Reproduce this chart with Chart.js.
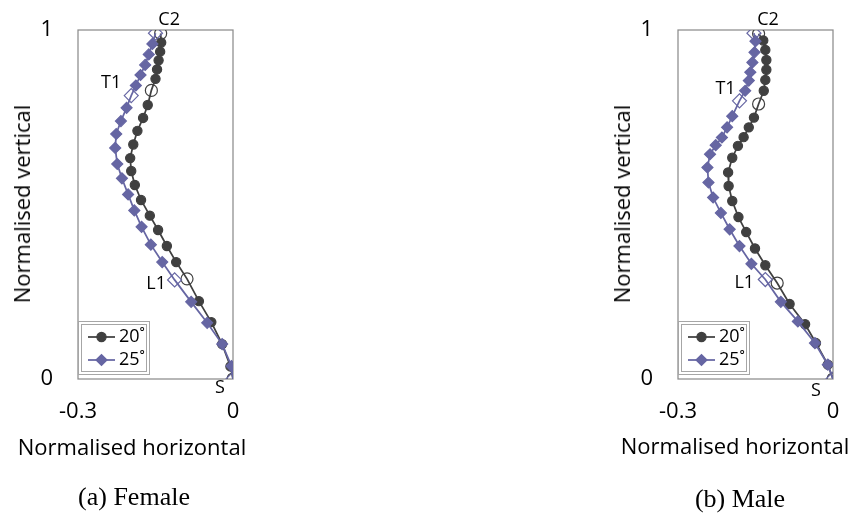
<!DOCTYPE html>
<html lang="en">
<head>
  <meta charset="UTF-8" />
  <title>Normalised spine curves</title>
  <script src="https://cdn.jsdelivr.net/npm/chart.js"></script>
  <style>
    body { margin: 0; background: #fff; }
    .page { position: relative; width: 857px; height: 517px; overflow: hidden; font-family: 'Open Sans', sans-serif; color: #000; }
    .panel { position: absolute; top: 0; width: 300px; height: 470px; }
    .txt { position: absolute; white-space: nowrap; line-height: 1; transform: translate(-50%, -50%); }
    .ytitle { font-size: 22px; transform: translate(-50%, -50%) rotate(-90deg); }
    .xtitle { font-size: 22px; }
    .caption { font-family: 'Liberation Serif', 'Times New Roman', serif; font-size: 26px; }
  </style>
</head>
<body>
  <div class="page">
    <div class="panel" style="left:0"><canvas id="chart-female" width="300" height="470"></canvas></div>
    <div class="panel" style="left:600px"><canvas id="chart-male" width="300" height="470"></canvas></div>

    <div class="txt ytitle" style="left:21px; top:204px">Normalised vertical</div>
    <div class="txt xtitle" style="left:132px; top:446px">Normalised horizontal</div>
    <div class="txt caption" style="left:134px; top:497px">(a) Female</div>

    <div class="txt ytitle" style="left:621px; top:204px">Normalised vertical</div>
    <div class="txt xtitle" style="left:735px; top:445px">Normalised horizontal</div>
    <div class="txt caption" style="left:740px; top:499px">(b) Male</div>
  </div>

  <script>
    // axis ticks and names
    const xTicks = [-0.3, 0];
    const xTickLabels = ['-0.3', '0'];
    const yTicks = [0, 1];
    const yTickLabels = ['0', '1'];
    const seriesNames = ['20˚', '25˚'];
    const keyNames = ['C2', 'T1', 'L1', 'S'];

    // (a) Female
    const femaleX20 = [-0.140, -0.139, -0.141, -0.144, -0.147, -0.150, -0.158, -0.165, -0.174, -0.185, -0.193, -0.199, -0.197, -0.190, -0.178, -0.161, -0.145, -0.128, -0.110, -0.089, -0.066, -0.042, -0.021, -0.005, 0];
    const femaleY20 = [0.990, 0.964, 0.938, 0.913, 0.887, 0.860, 0.827, 0.785, 0.748, 0.711, 0.672, 0.633, 0.596, 0.556, 0.513, 0.468, 0.427, 0.381, 0.335, 0.287, 0.223, 0.163, 0.100, 0.036, 0];
    const femaleKey20 = [0, 6, 19, 24];

    const femaleX25 = [-0.150, -0.156, -0.163, -0.170, -0.179, -0.188, -0.197, -0.206, -0.217, -0.226, -0.228, -0.224, -0.215, -0.203, -0.191, -0.177, -0.159, -0.137, -0.113, -0.081, -0.050, -0.021, -0.003, 0];
    const femaleY25 = [0.991, 0.960, 0.930, 0.900, 0.871, 0.841, 0.812, 0.777, 0.739, 0.702, 0.662, 0.616, 0.575, 0.529, 0.483, 0.436, 0.385, 0.335, 0.284, 0.221, 0.161, 0.100, 0.037, 0];
    const femaleKey25 = [0, 6, 18, 23];

    // (b) Male
    const maleX20 = [-0.144, -0.135, -0.131, -0.129, -0.129, -0.131, -0.134, -0.144, -0.153, -0.163, -0.173, -0.184, -0.195, -0.203, -0.202, -0.195, -0.183, -0.168, -0.151, -0.131, -0.108, -0.084, -0.054, -0.033, -0.010, 0];
    const maleY20 = [0.989, 0.970, 0.943, 0.914, 0.886, 0.857, 0.826, 0.788, 0.749, 0.721, 0.693, 0.668, 0.634, 0.592, 0.553, 0.510, 0.464, 0.421, 0.374, 0.326, 0.275, 0.215, 0.157, 0.103, 0.041, 0];
    const maleKey20 = [0, 7, 20, 25];

    const maleX25 = [-0.153, -0.150, -0.152, -0.156, -0.160, -0.163, -0.170, -0.181, -0.195, -0.205, -0.215, -0.227, -0.238, -0.243, -0.241, -0.232, -0.217, -0.200, -0.181, -0.158, -0.131, -0.101, -0.068, -0.035, -0.010, 0];
    const maleY25 = [0.991, 0.968, 0.936, 0.907, 0.879, 0.855, 0.826, 0.797, 0.753, 0.721, 0.692, 0.670, 0.644, 0.606, 0.563, 0.520, 0.476, 0.429, 0.381, 0.330, 0.285, 0.221, 0.165, 0.103, 0.041, 0];
    const maleKey25 = [0, 7, 20, 25];

    // where the C2/T1/L1/S names sit, relative to a marked point of one series
    const femaleLabelPos = [
      { key: 0, series: 0, dx: 8.5, dy: -14 },
      { key: 1, series: 1, dx: -20, dy: -12.5 },
      { key: 2, series: 1, dx: -18.5, dy: 3.5 },
      { key: 3, series: 1, dx: -13, dy: 9 }
    ];
    const maleLabelPos = [
      { key: 0, series: 0, dx: 9.5, dy: -14 },
      { key: 1, series: 1, dx: -14, dy: -12 },
      { key: 2, series: 1, dx: -21, dy: 3 },
      { key: 3, series: 1, dx: -17, dy: 11.5 }
    ];

    const styles = [
      { color: '#404040', shape: 'circle', r: 4.6, hollowR: 6, order: 2 },
      { color: '#6666a3', shape: 'rectRot', r: 5.5, hollowR: 7, order: 1 }
    ];
    const tickFont = { family: "'Open Sans', sans-serif", size: 22 };

    function buildSet(name, xs, ys, keys, st) {
      const data = xs.map((x, i) => ({ x, y: ys[i] }));
      const hollow = i => keys.includes(i);
      return {
        label: name,
        data,
        showLine: true,
        borderColor: st.color,
        borderWidth: 1.75,
        pointStyle: st.shape,
        pointRadius: data.map((_, i) => hollow(i) ? st.hollowR : st.r),
        pointBackgroundColor: data.map((_, i) => hollow(i) ? 'rgba(255,255,255,0)' : st.color),
        pointBorderColor: st.color,
        pointBorderWidth: 1.2,
        order: st.order
      };
    }

    function makeChart(id, series, labelPos) {
      const sets = series.map((s, i) => buildSet(seriesNames[i], s.xs, s.ys, s.keys, styles[i]));

      const frame = {
        id: 'frame',
        beforeDatasetsDraw(chart) {
          const { ctx, chartArea: a } = chart;
          ctx.save();
          ctx.strokeStyle = '#8c8c8c';
          ctx.lineWidth = 1.25;
          ctx.strokeRect(a.left, a.top, a.right - a.left, a.bottom - a.top);
          ctx.restore();
        }
      };

      const boxLegend = {
        id: 'boxLegend',
        afterDatasetsDraw(chart) {
          const { ctx, chartArea: a } = chart;
          const x = a.left, y = a.bottom - 58, w = 72, h = 54;
          ctx.save();
          ctx.fillStyle = '#fff';
          ctx.fillRect(x, y, w, h);
          ctx.strokeStyle = '#a6a6a6';
          ctx.lineWidth = 1;
          ctx.strokeRect(x + 0.5, y + 0.5, w - 1, h - 1);
          ctx.strokeRect(x + 3.5, y + 3.5, w - 7, h - 7);
          sets.forEach((ds, i) => {
            const st = styles[i];
            const rowY = y + 16 + i * 23;
            ctx.strokeStyle = st.color;
            ctx.lineWidth = 1.75;
            ctx.beginPath();
            ctx.moveTo(x + 10, rowY);
            ctx.lineTo(x + 37, rowY);
            ctx.stroke();
            ctx.fillStyle = st.color;
            ctx.lineWidth = 1.2;
            Chart.helpers.drawPoint(ctx, { pointStyle: st.shape, radius: st.r, borderWidth: 1.2, rotation: 0 }, x + 23.5, rowY);
            ctx.fillStyle = '#000';
            ctx.font = "18px 'Open Sans', sans-serif";
            ctx.textAlign = 'left';
            ctx.textBaseline = 'middle';
            ctx.fillText(ds.label, x + 41, rowY);
          });
          ctx.restore();
        }
      };

      const keyLabels = {
        id: 'keyLabels',
        afterDatasetsDraw(chart) {
          const { ctx, scales } = chart;
          ctx.save();
          ctx.font = "18px 'Open Sans', sans-serif";
          ctx.fillStyle = '#000';
          ctx.textAlign = 'center';
          ctx.textBaseline = 'middle';
          labelPos.forEach(l => {
            const s = series[l.series];
            const idx = s.keys[l.key];
            const px = scales.x.getPixelForValue(s.xs[idx]) + l.dx;
            const py = scales.y.getPixelForValue(s.ys[idx]) + l.dy;
            ctx.fillText(keyNames[l.key], px, py);
          });
          ctx.restore();
        }
      };

      return new Chart(document.getElementById(id), {
        type: 'scatter',
        data: { datasets: sets },
        plugins: [frame, boxLegend, keyLabels],
        options: {
          responsive: false,
          animation: false,
          events: [],
          layout: { padding: { left: 0, right: 67, top: 30, bottom: 0 } },
          plugins: { legend: { display: false }, tooltip: { enabled: false } },
          scales: {
            x: {
              type: 'linear', min: -0.3, max: 0,
              grid: { display: false, drawTicks: false },
              border: { display: false },
              ticks: { font: tickFont, color: '#000', padding: 20, maxRotation: 0, callback: (v, i) => xTickLabels[i] },
              afterBuildTicks: s => { s.ticks = xTicks.map(v => ({ value: v })); },
              afterFit: s => { s.height = 91; s.paddingLeft = 0; s.paddingRight = 0; }
            },
            y: {
              type: 'linear', min: 0, max: 1,
              grid: { display: false, drawTicks: false },
              border: { display: false },
              ticks: { font: tickFont, color: '#000', padding: 25, callback: (v, i) => yTickLabels[i] },
              afterBuildTicks: s => { s.ticks = yTicks.map(v => ({ value: v })); },
              afterFit: s => { s.width = 78; s.paddingTop = 0; s.paddingBottom = 0; }
            }
          }
        }
      });
    }

    makeChart('chart-female', [
      { xs: femaleX20, ys: femaleY20, keys: femaleKey20 },
      { xs: femaleX25, ys: femaleY25, keys: femaleKey25 }
    ], femaleLabelPos);

    makeChart('chart-male', [
      { xs: maleX20, ys: maleY20, keys: maleKey20 },
      { xs: maleX25, ys: maleY25, keys: maleKey25 }
    ], maleLabelPos);
  </script>
</body>
</html>
